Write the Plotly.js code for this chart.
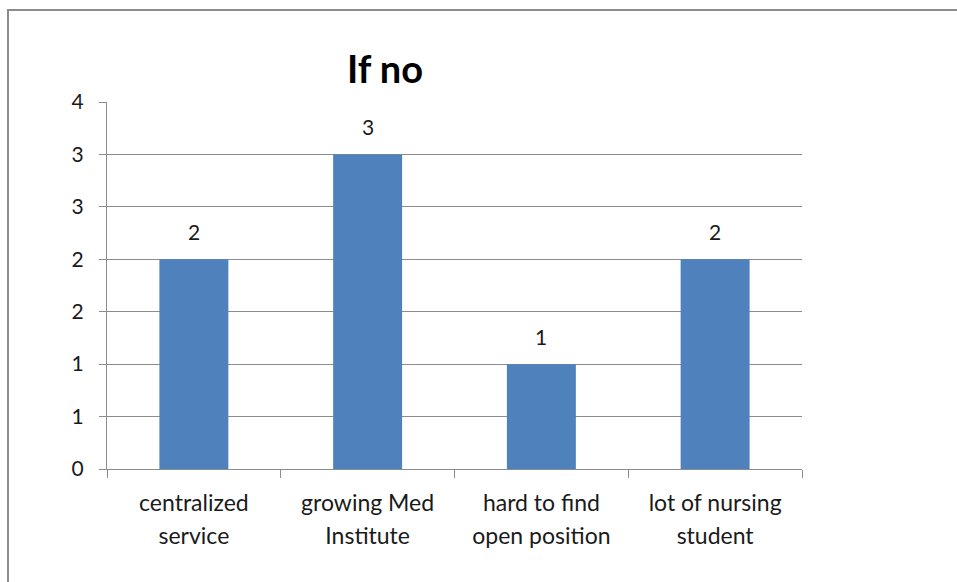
<!DOCTYPE html>
<html>
<head>
<meta charset="utf-8">
<script src="https://cdn.plot.ly/plotly-3.0.1.min.js"></script>
<style>
  html, body { margin: 0; padding: 0; background: #fff; overflow: hidden; }
  #wrap { position: relative; width: 957px; height: 582px; }
  #chart { position: absolute; left: 0; top: 0; width: 957px; height: 582px; }
  #frame { position: absolute; left: 7px; top: 9px; width: 1200px; height: 1200px;
           border-top: 2px solid #8c8c8c; border-left: 2px solid #8c8c8c; pointer-events: none; }
</style>
</head>
<body>
<div id="wrap">
  <div id="chart"></div>
  <div id="frame"></div>
</div>
<script>
// ---- data ----
const categories = ["centralized service", "growing Med Institute", "hard to find open position", "lot of nursing student"];
const categoryLines = [["centralized", "service"], ["growing Med", "Institute"], ["hard to find", "open position"], ["lot of nursing", "student"]];
const values = [2, 3, 1, 2];
const valueLabels = ["2", "3", "1", "2"];
const yTickValues = [0, 0.5, 1, 1.5, 2, 2.5, 3, 3.5];
const yTickLabels = ["0", "1", "1", "2", "2", "3", "3", "4"];
const chartTitle = "If no";

const FONT = "Lato, 'Open Sans', sans-serif";
const TXT = "#1a1a1a";
const GRID = "#8c8c8c";

const xTickText = categoryLines.map(lines =>
  lines.map(l => "<span style='font-size:23px'>" + l + "</span>").join("<br>"));

const trace = {
  type: "bar",
  x: categories,
  y: values,
  marker: { color: "#4F81BD", line: { width: 0 } },
  hoverinfo: "skip"
};

const annotations = categories.map((c, i) => ({
  x: c, y: values[i], xref: "x", yref: "y",
  text: valueLabels[i], showarrow: false,
  yanchor: "bottom", yshift: 13,
  font: { family: FONT, size: 21, color: TXT }
}));

const layout = {
  width: 957, height: 582,
  margin: { l: 107, r: 155, t: 102, b: 113 },
  paper_bgcolor: "#ffffff",
  plot_bgcolor: "#ffffff",
  showlegend: false,
  bargap: 0.603,
  title: {
    text: "<b>" + chartTitle + "</b>",
    font: { family: FONT, size: 38, color: "#000" },
    xref: "container", yref: "container",
    x: 385 / 957, xanchor: "center",
    y: 1 - 70 / 582, yanchor: "middle"
  },
  xaxis: {
    type: "category",
    tickmode: "array",
    tickvals: categories,
    ticktext: xTickText,
    tickson: "boundaries",
    ticks: "outside", ticklen: 8, tickcolor: GRID, tickwidth: 1,
    showline: true, linecolor: GRID, linewidth: 1,
    showgrid: false, zeroline: false,
    tickfont: { family: FONT, size: 25, color: TXT },
    ticklabelstandoff: 11,
    fixedrange: true
  },
  yaxis: {
    range: [0, 3.5],
    tickmode: "array",
    tickvals: yTickValues,
    ticktext: yTickLabels,
    ticks: "outside", ticklen: 7, tickcolor: GRID, tickwidth: 1,
    showline: true, linecolor: GRID, linewidth: 1,
    showgrid: true, gridcolor: GRID, gridwidth: 1,
    zeroline: false,
    tickfont: { family: FONT, size: 21, color: TXT },
    ticklabelstandoff: 11,
    fixedrange: true
  },
  annotations: annotations
};

Plotly.newPlot("chart", [trace], layout, { displayModeBar: false, staticPlot: true });
</script>
</body>
</html>
